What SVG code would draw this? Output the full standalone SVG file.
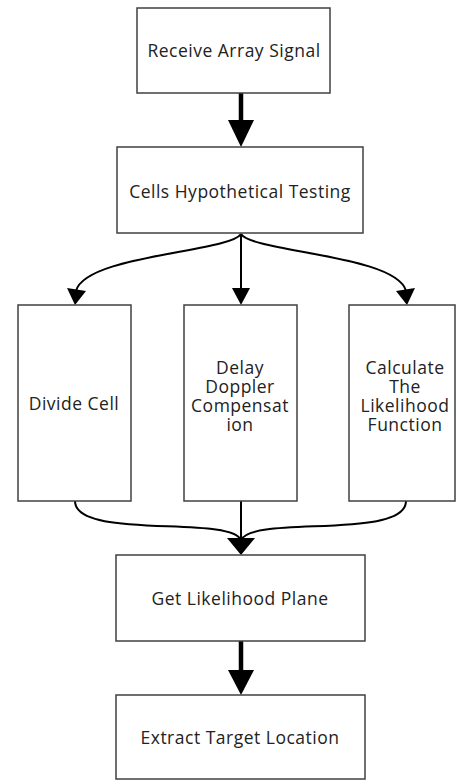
<svg xmlns="http://www.w3.org/2000/svg" width="458" height="781" viewBox="0 0 458 781">
  <style>
    .box { fill: #ffffff; stroke: #404040; stroke-width: 1.5; }
    .lbl { font-family: "Open Sans", "Noto Sans", "DejaVu Sans", sans-serif; font-size: 17.5px; letter-spacing: 0.5px; fill: #222222; text-anchor: middle; dominant-baseline: central; }
    .thin { fill: none; stroke: #000000; stroke-width: 2; }
    .thick { fill: none; stroke: #000000; stroke-width: 4.5; }
    .head { fill: #000000; }
  </style>
  <rect x="0" y="0" width="458" height="781" fill="#ffffff"/>

  <g id="connectors">
    <!-- receive -> hypothesis testing -->
    <line class="thick" x1="241" y1="93" x2="241" y2="122"/>
    <polygon class="head" points="228,120 254,120 241,147"/>

    <!-- fan-out to the three processing steps -->
    <path class="thin" d="M241,234 C230,252 85,255 76,291"/>
    <polygon class="head" points="67,288 86,291 75,305"/>
    <line class="thin" x1="241" y1="234" x2="241" y2="290"/>
    <polygon class="head" points="232,288 250,288 241,305"/>
    <path class="thin" d="M241,234 C252,252 397,255 406,291"/>
    <polygon class="head" points="415,288 396,291 407,305"/>

    <!-- fan-in to likelihood plane -->
    <path class="thin" d="M75,501 C75,540 230,515 241,540"/>
    <path class="thin" d="M406,501 C406,540 252,515 241,540"/>
    <line class="thin" x1="241" y1="501" x2="241" y2="540"/>
    <polygon class="head" points="227,538 255,538 241,555"/>

    <!-- likelihood plane -> target location -->
    <line class="thick" x1="241" y1="641" x2="241" y2="672"/>
    <polygon class="head" points="228,670 254,670 241,695"/>
  </g>

  <g id="receive">
    <rect class="box" x="137" y="8" width="193" height="85"/>
    <text class="lbl" x="234" y="50">Receive Array Signal</text>
  </g>

  <g id="hypothesis">
    <rect class="box" x="117" y="147" width="246" height="86"/>
    <text class="lbl" x="240" y="191">Cells Hypothetical Testing</text>
  </g>

  <g id="divide">
    <rect class="box" x="18" y="305" width="113" height="196"/>
    <text class="lbl" x="74" y="403">Divide Cell</text>
  </g>

  <g id="compensation">
    <rect class="box" x="184" y="305" width="113" height="196"/>
    <text class="lbl" x="240" y="367">Delay</text>
    <text class="lbl" x="240" y="386">Doppler</text>
    <text class="lbl" x="240" y="405">Compensat</text>
    <text class="lbl" x="240" y="424">ion</text>
  </g>

  <g id="likelihood">
    <rect class="box" x="349" y="305" width="106" height="196"/>
    <text class="lbl" x="405" y="367">Calculate</text>
    <text class="lbl" x="405" y="386">The</text>
    <text class="lbl" x="405" y="405">Likelihood</text>
    <text class="lbl" x="405" y="424">Function</text>
  </g>

  <g id="plane">
    <rect class="box" x="116" y="555" width="249" height="86"/>
    <text class="lbl" x="240" y="598">Get Likelihood Plane</text>
  </g>

  <g id="location">
    <rect class="box" x="116" y="695" width="249" height="84"/>
    <text class="lbl" x="240" y="737">Extract Target Location</text>
  </g>
</svg>
